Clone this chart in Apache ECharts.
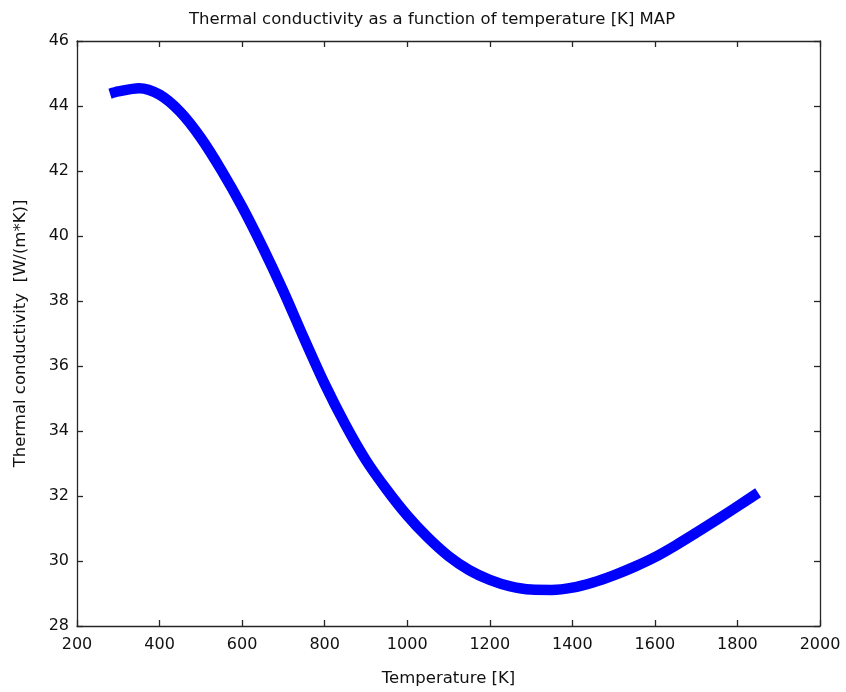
<!DOCTYPE html>
<html>
<head>
<meta charset="utf-8">
<script src="https://cdn.jsdelivr.net/npm/echarts@6/dist/echarts.min.js"></script>
<style>
  html, body { margin: 0; padding: 0; background: #fff; }
  #chart { width: 846px; height: 692px; }
</style>
</head>
<body>
<div id="chart"></div>
<script>
// Temperature samples [K]
const temperature = [280, 300, 350, 400, 450, 500, 550, 600, 650, 700, 750, 800, 850, 900, 950,
  1000, 1050, 1100, 1150, 1200, 1250, 1300, 1350, 1400, 1450, 1500, 1550, 1600, 1650, 1700,
  1750, 1800, 1850];
// Thermal conductivity [W/(m*K)]
const conductivity = [44.38, 44.45, 44.55, 44.35, 43.82, 43.02, 42.02, 40.90, 39.65, 38.30, 36.85,
  35.45, 34.20, 33.10, 32.20, 31.40, 30.72, 30.15, 29.72, 29.42, 29.22, 29.12, 29.11, 29.18, 29.34,
  29.56, 29.82, 30.12, 30.48, 30.87, 31.27, 31.68, 32.10];

const xTicks = { min: 200, max: 2000, interval: 200 };
const yTicks = { min: 28, max: 46, interval: 2 };

const font = 'DejaVu Sans, Verdana, sans-serif';
const axisColor = '#262626';
const textColor = '#111111';

const chart = echarts.init(document.getElementById('chart'), null, { renderer: 'canvas' });

const points = temperature.map((t, i) => [t, conductivity[i]]);
const plain = v => String(v);

const baseAxis = {
  axisLine: { show: true, onZero: false, lineStyle: { color: axisColor, width: 1.3 } },
  axisTick: { show: true, inside: true, length: 6, lineStyle: { color: axisColor, width: 1.3 } },
  splitLine: { show: false }
};

chart.setOption({
  animation: false,
  backgroundColor: '#ffffff',
  title: {
    text: 'Thermal conductivity as a function of temperature [K] MAP',
    left: 427, top: 6, textAlign: 'center',
    textStyle: { fontFamily: font, fontSize: 16.5, fontWeight: 'normal', color: textColor }
  },
  grid: { left: 77, right: 26, top: 41, bottom: 65, containLabel: false },
  xAxis: [
    Object.assign({}, baseAxis, {
      type: 'value', position: 'bottom',
      min: xTicks.min, max: xTicks.max, interval: xTicks.interval,
      name: 'Temperature [K]', nameLocation: 'middle', nameGap: 44,
      nameTextStyle: { fontFamily: font, fontSize: 16.5, color: textColor },
      axisLabel: { fontFamily: font, fontSize: 16, color: textColor, margin: 11, formatter: plain }
    }),
    Object.assign({}, baseAxis, {
      type: 'value', position: 'top',
      min: xTicks.min, max: xTicks.max, interval: xTicks.interval,
      axisLabel: { show: false }
    })
  ],
  yAxis: [
    Object.assign({}, baseAxis, {
      type: 'value', position: 'left',
      min: yTicks.min, max: yTicks.max, interval: yTicks.interval,
      name: 'Thermal conductivity  [W/(m*K)]', nameLocation: 'middle', nameGap: 48,
      nameTextStyle: { fontFamily: font, fontSize: 16.5, color: textColor },
      axisLabel: { fontFamily: font, fontSize: 16, color: textColor, margin: 8, formatter: plain }
    }),
    Object.assign({}, baseAxis, {
      type: 'value', position: 'right',
      min: yTicks.min, max: yTicks.max, interval: yTicks.interval,
      axisLabel: { show: false }
    })
  ],
  series: [{
    type: 'line',
    data: points,
    smooth: 0.3,
    showSymbol: false,
    lineStyle: { color: '#0000ff', width: 10.5, cap: 'butt', join: 'round' }
  }]
});
</script>
</body>
</html>
